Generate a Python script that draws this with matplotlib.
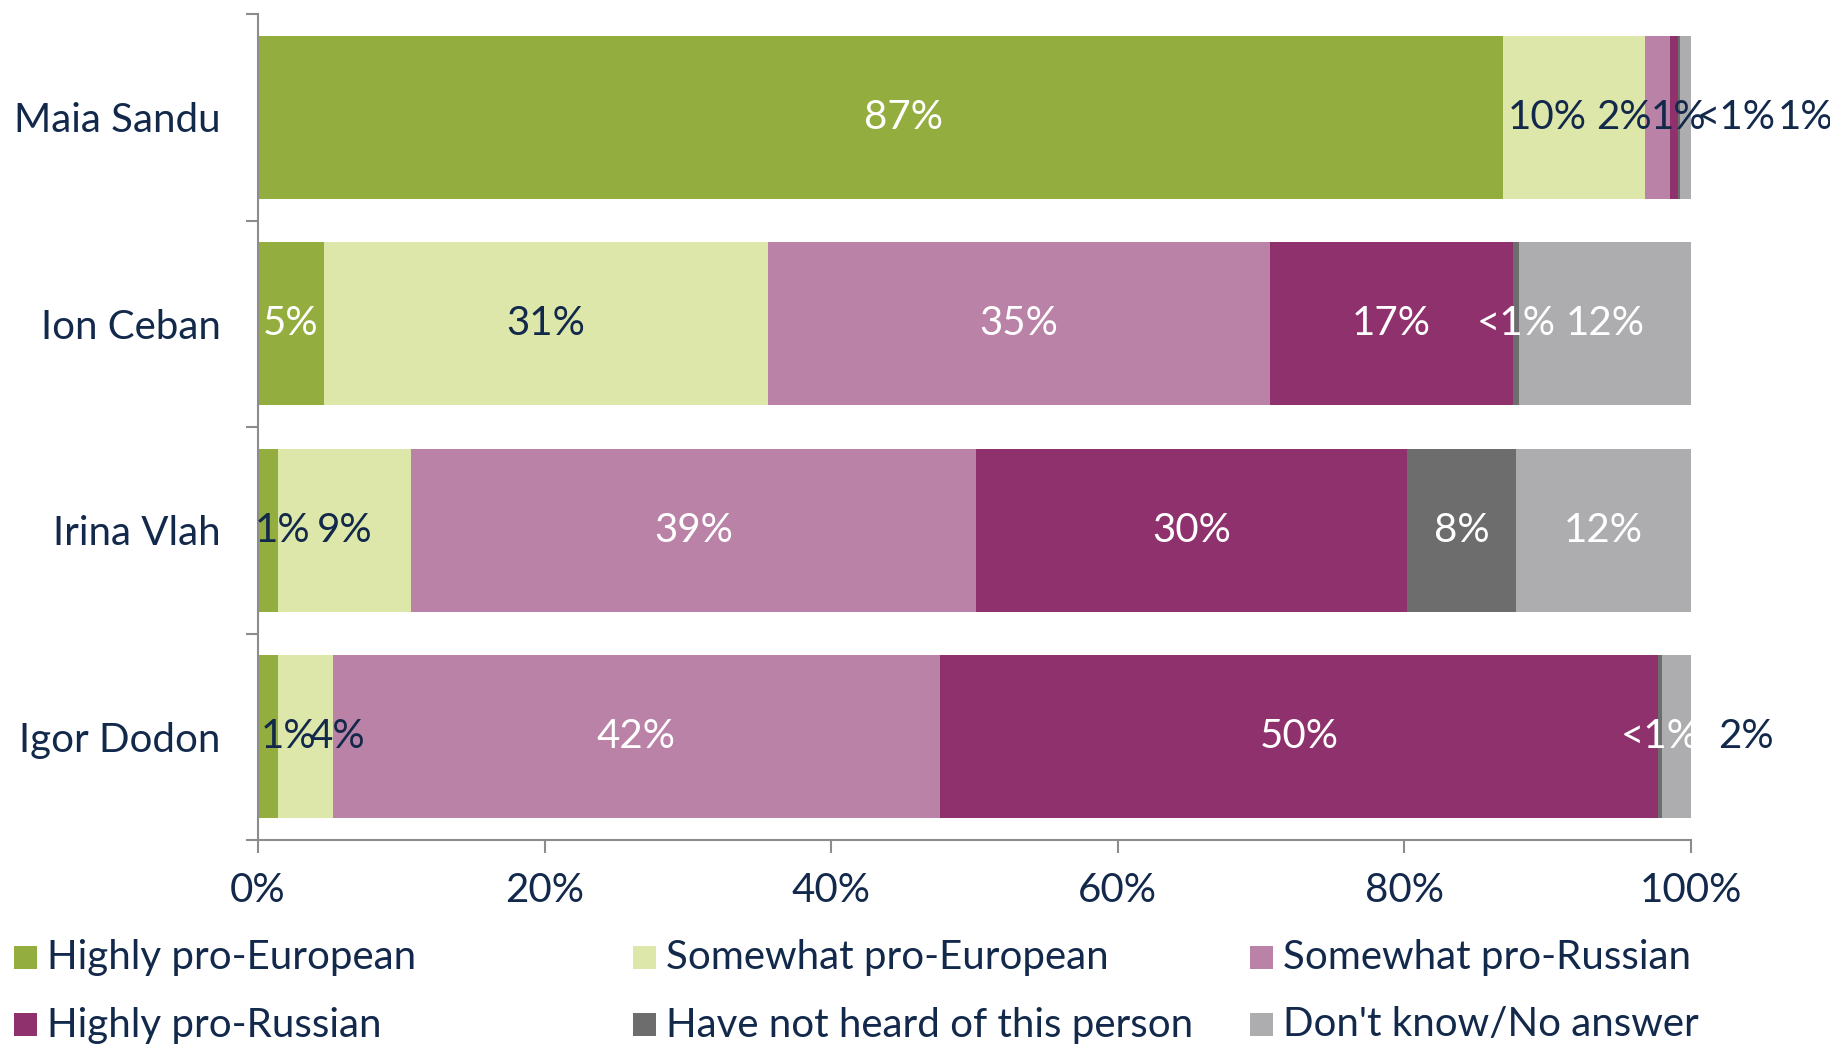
import matplotlib.pyplot as plt
from matplotlib.patches import Rectangle
import numpy as np

plt.rcParams['font.family'] = ['Lato', 'DejaVu Sans']

politicians = ["Maia Sandu", "Ion Ceban", "Irina Vlah", "Igor Dodon"]
answers = ["Highly pro-European", "Somewhat pro-European", "Somewhat pro-Russian",
           "Highly pro-Russian", "Have not heard of this person", "Don't know/No answer"]

# percent of respondents, one list per answer, in politician order
highly_eu = [86.9, 4.6, 1.4, 1.4]
somewhat_eu = [9.9, 31.0, 9.3, 3.8]
somewhat_ru = [1.7, 35.0, 39.4, 42.4]
highly_ru = [0.6, 17.0, 30.1, 50.1]
not_heard = [0.1, 0.4, 7.6, 0.3]
dont_know = [0.8, 12.0, 12.2, 2.0]

series = [highly_eu, somewhat_eu, somewhat_ru, highly_ru, not_heard, dont_know]
colors = ["#93ae3f", "#dde7a9", "#bb82a8", "#8f316d", "#6d6d6d", "#adadaf"]
NAVY = "#13294b"
GREY = "#8c8c8c"
FS = 29

# labels that get nudged sideways so they don't sit on top of each other
label_shift = {(0, 0): 1.6, (0, 1): -1.85, (0, 2): -2.35, (0, 3): 0.3,
               (0, 4): 4.0, (0, 5): 8.4,
               (2, 0): 1.0,
               (3, 0): 1.45, (3, 1): 2.25, (3, 5): 4.8}

W, H = 1831, 1044
fig = plt.figure(figsize=(W / 100, H / 100), dpi=100)
ax = fig.add_axes([258 / W, 1 - 840 / H, 1433 / W, 826 / H])

y = np.arange(len(politicians))
left = np.zeros(len(politicians))
for j, (vals, col) in enumerate(zip(series, colors)):
    vals = np.array(vals)
    ax.barh(y, vals, left=left, height=0.79, color=col, linewidth=0)
    for i, v in enumerate(vals):
        shift = label_shift.get((i, j), 0)
        txt = "<1%" if v < 0.5 else f"{round(v)}%"
        if j == 1 or (v < 3 and shift != 0):
            tc = NAVY
        else:
            tc = "white"
        ax.text(left[i] + v / 2 + shift, y[i], txt, ha="center", va="center",
                fontsize=FS, color=tc)
    left += vals

ax.set_xlim(0, 100)
ax.set_ylim(len(politicians) - 0.5, -0.5)

ax.set_xticks(np.arange(0, 101, 20))
ax.set_xticklabels([f"{t}%" for t in range(0, 101, 20)])
ax.set_yticks(y)
ax.set_yticklabels(politicians)
ax.set_yticks(np.arange(-0.5, len(politicians), 1), minor=True)

ax.tick_params(axis="x", length=9, width=1.5, color=GREY, labelsize=FS,
               labelcolor=NAVY, pad=14)
ax.tick_params(axis="y", which="major", length=0, labelsize=FS, labelcolor=NAVY, pad=27)
ax.tick_params(axis="y", which="minor", length=9, width=1.5, color=GREY)

for s in ["top", "right"]:
    ax.spines[s].set_visible(False)
for s in ["left", "bottom"]:
    ax.spines[s].set_color(GREY)
    ax.spines[s].set_linewidth(1.5)

# legend laid out as a 2 x 3 grid below the plot
col_x = [14, 633, 1250]
row_y = [958, 1025]
for k, (name, col) in enumerate(zip(answers, colors)):
    r, c = divmod(k, 3)
    fig.add_artist(Rectangle((col_x[c] / W, 1 - (row_y[r] + 11) / H), 23 / W, 23 / H,
                             transform=fig.transFigure, color=col, linewidth=0))
    fig.text((col_x[c] + 33) / W, 1 - row_y[r] / H, name, ha="left", va="center",
             fontsize=FS, color=NAVY)

plt.savefig("out.png", dpi=100)
